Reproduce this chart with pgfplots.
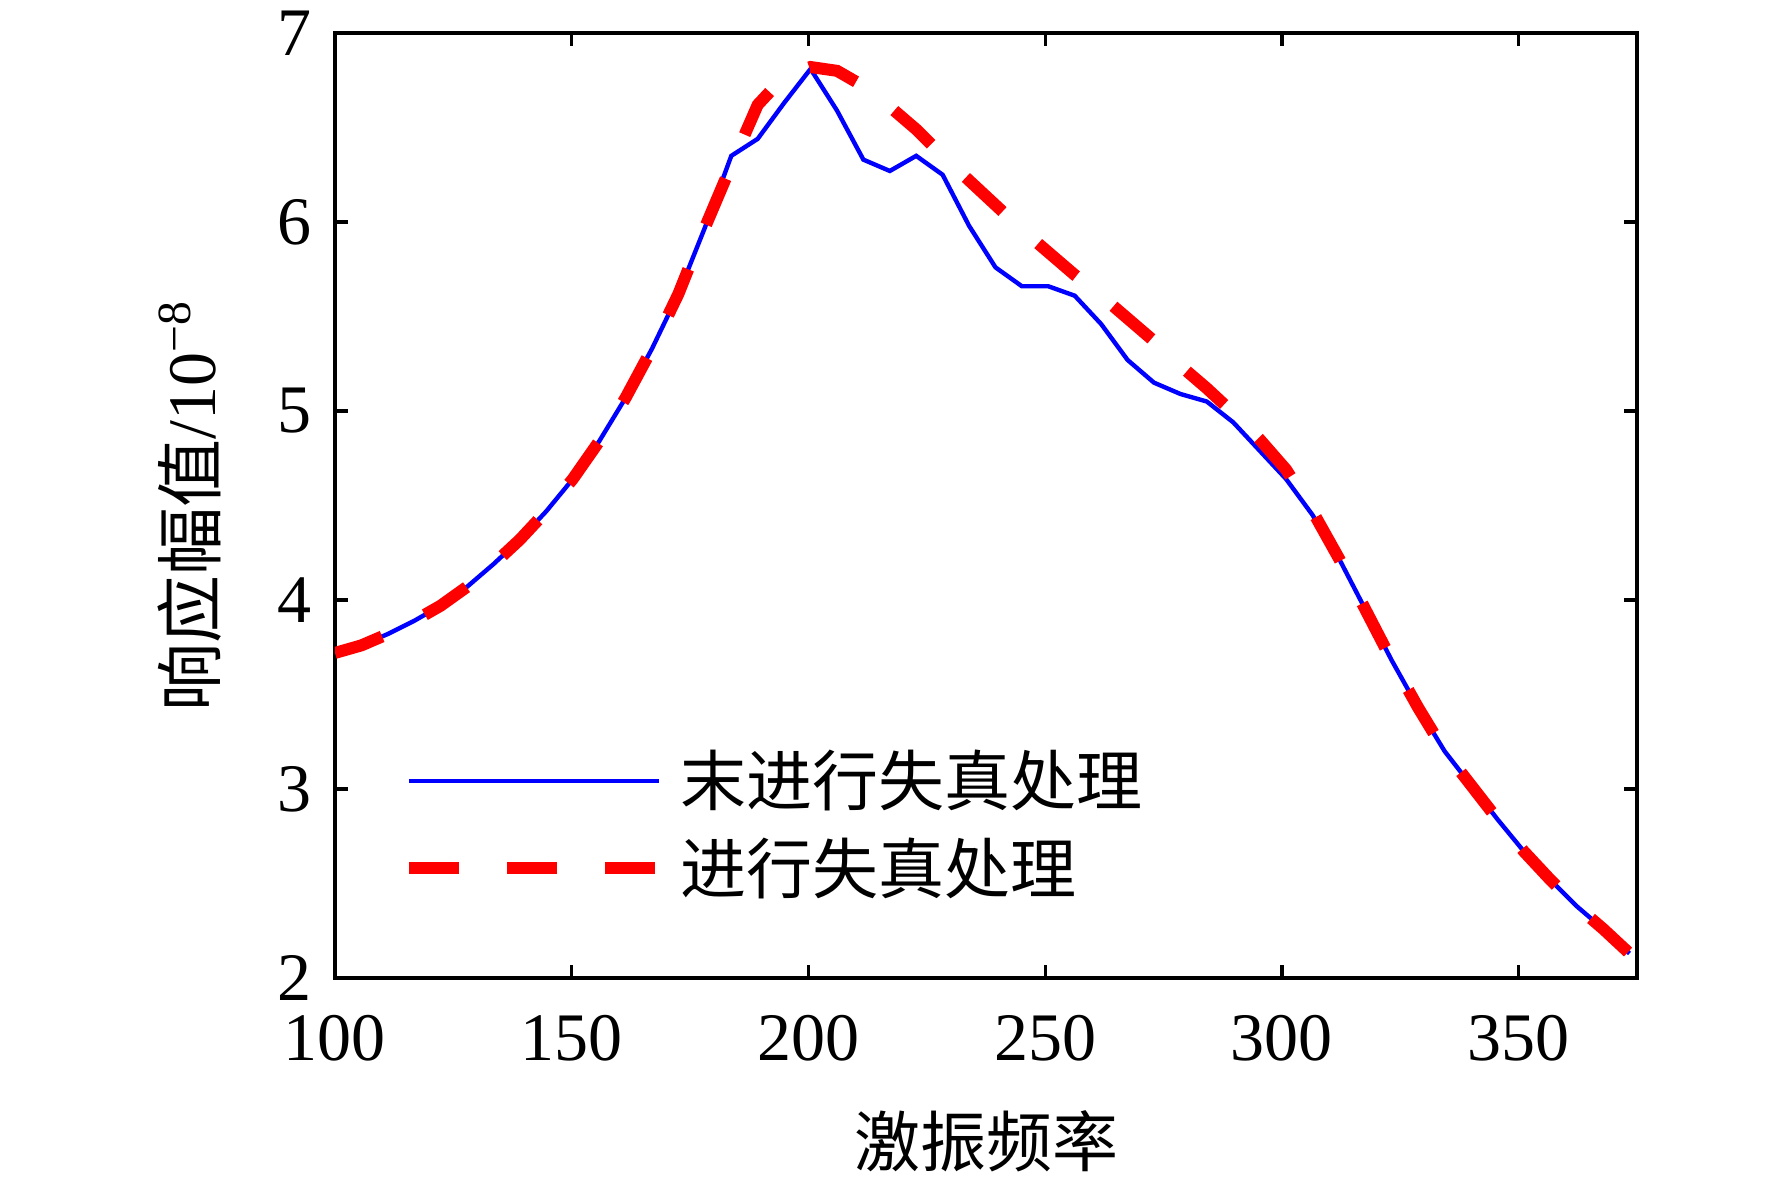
\documentclass[border=0pt]{standalone}
\usepackage{pgfplots}
\pgfplotsset{compat=1.18}
\usepackage{pgfplotstable}
\usepackage{fontspec}
\setmainfont{Liberation Serif}
\newfontfamily\cjk{Noto Sans CJK SC}

\pgfplotstableread{
x y
100.00 3.72
105.58 3.76
111.16 3.82
116.74 3.89
122.32 3.97
127.90 4.07
133.48 4.19
139.06 4.32
144.64 4.47
150.22 4.64
155.80 4.84
161.38 5.07
166.96 5.33
172.54 5.62
178.12 5.97
183.70 6.35
189.28 6.44
194.86 6.63
200.44 6.81
206.02 6.59
211.60 6.33
217.18 6.27
222.76 6.35
228.34 6.25
233.92 5.98
239.50 5.76
245.08 5.66
250.66 5.66
256.24 5.61
261.82 5.46
267.40 5.27
272.98 5.15
278.56 5.09
284.14 5.05
289.72 4.94
295.30 4.79
300.88 4.64
306.46 4.45
312.04 4.22
317.62 3.95
323.20 3.68
328.78 3.43
334.36 3.20
339.94 3.02
345.52 2.84
351.10 2.67
356.68 2.52
362.26 2.38
367.84 2.26
373.42 2.13
}\rawdata

\pgfplotstableread{
x y
100.00 3.72
105.58 3.76
111.16 3.82
116.74 3.89
122.32 3.97
127.90 4.07
133.48 4.19
139.06 4.32
144.64 4.47
150.22 4.64
155.80 4.84
161.38 5.07
166.96 5.33
172.54 5.62
178.12 5.97
183.70 6.30
189.28 6.62
194.86 6.77
200.44 6.82
206.02 6.80
211.60 6.72
217.18 6.61
222.76 6.49
228.34 6.35
233.92 6.22
239.50 6.09
245.08 5.96
250.66 5.84
256.24 5.72
261.82 5.61
267.40 5.49
272.98 5.37
278.56 5.24
284.14 5.12
289.72 4.99
295.30 4.85
300.88 4.69
306.46 4.47
312.04 4.22
317.62 3.95
323.20 3.68
328.78 3.43
334.36 3.20
339.94 3.02
345.52 2.84
351.10 2.67
356.68 2.52
362.26 2.38
367.84 2.26
373.42 2.13
}\procdata

\begin{document}
\begin{tikzpicture}
\begin{axis}[
  at={(0pt,0pt)}, anchor=south west,
  width=325.5pt, height=236.25pt, scale only axis,
  xmin=100, xmax=375, ymin=2, ymax=7,
  xtick={100,150,...,350}, ytick={2,3,...,7},
  tick align=inside,
  major tick length=3.25pt,
  axis line style={line width=0.85pt},
  every tick/.style={black, line width=0.85pt},
  /pgf/number format/assume math mode=true,
  ticklabel style={font=\fontsize{17}{20}\selectfont},
  xticklabel style={inner sep=0pt, yshift=-9.2pt},
  yticklabel style={inner sep=0pt, xshift=-5.6pt},
  xlabel={激振频率},
  ylabel={{\cjk 响应幅值}/10\textsuperscript{−8}},
  xlabel style={font=\fontsize{16.5}{20}\selectfont\cjk, at={(axis description cs:0.5,-0.1725)}, anchor=center},
  ylabel style={font=\fontsize{17}{20}\selectfont, at={(axis description cs:-0.1114,0.5)}, anchor=center},
  legend style={draw=none, fill=none, at={(axis description cs:0.0515,0.1624)}, anchor=west,
    inner sep=0pt, row sep=6.5pt, column sep=4pt, nodes={inner sep=0pt},
    font=\fontsize{16.5}{20}\selectfont\cjk},
  legend cell align=left,
  legend image code/.code={\draw[#1] (0pt,0pt) -- (62.5pt,0pt);},
]
\addplot[blue, line width=1.1pt] table[x=x, y=y] {\rawdata};
\addlegendentry{末进行失真处理}
\addplot[red, line width=3pt, dash pattern=on 12.5pt off 12pt] table[x=x, y=y] {\procdata};
\addlegendentry{进行失真处理}
\end{axis}
\path (-83.75pt,-51.5pt) rectangle (359.25pt,244.5pt);
\end{tikzpicture}
\end{document}
